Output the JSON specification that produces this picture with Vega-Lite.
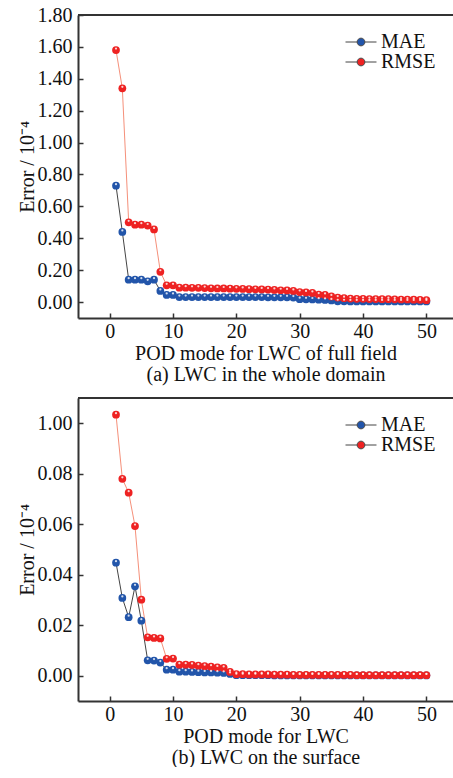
{
  "$schema": "https://vega.github.io/schema/vega-lite/v6.json",
  "padding": {"top": 5, "left": 17, "right": 0, "bottom": 0},
  "background": "white",
  "datasets": {
    "a": [
      {"n":1,"MAE":0.73,"RMSE":1.58},{"n":2,"MAE":0.44,"RMSE":1.34},{"n":3,"MAE":0.14,"RMSE":0.50},{"n":4,"MAE":0.14,"RMSE":0.485},{"n":5,"MAE":0.14,"RMSE":0.485},
      {"n":6,"MAE":0.13,"RMSE":0.48},{"n":7,"MAE":0.14,"RMSE":0.455},{"n":8,"MAE":0.07,"RMSE":0.19},{"n":9,"MAE":0.045,"RMSE":0.105},{"n":10,"MAE":0.045,"RMSE":0.105},
      {"n":11,"MAE":0.031,"RMSE":0.09},{"n":12,"MAE":0.031,"RMSE":0.09},{"n":13,"MAE":0.031,"RMSE":0.089},{"n":14,"MAE":0.031,"RMSE":0.089},{"n":15,"MAE":0.031,"RMSE":0.088},
      {"n":16,"MAE":0.031,"RMSE":0.086},{"n":17,"MAE":0.031,"RMSE":0.085},{"n":18,"MAE":0.031,"RMSE":0.085},{"n":19,"MAE":0.031,"RMSE":0.084},{"n":20,"MAE":0.031,"RMSE":0.083},
      {"n":21,"MAE":0.031,"RMSE":0.082},{"n":22,"MAE":0.031,"RMSE":0.081},{"n":23,"MAE":0.031,"RMSE":0.08},{"n":24,"MAE":0.031,"RMSE":0.079},{"n":25,"MAE":0.03,"RMSE":0.078},
      {"n":26,"MAE":0.03,"RMSE":0.076},{"n":27,"MAE":0.03,"RMSE":0.074},{"n":28,"MAE":0.03,"RMSE":0.073},{"n":29,"MAE":0.028,"RMSE":0.07},{"n":30,"MAE":0.018,"RMSE":0.063},
      {"n":31,"MAE":0.017,"RMSE":0.06},{"n":32,"MAE":0.016,"RMSE":0.057},{"n":33,"MAE":0.015,"RMSE":0.047},{"n":34,"MAE":0.013,"RMSE":0.045},{"n":35,"MAE":0.01,"RMSE":0.035},
      {"n":36,"MAE":0.005,"RMSE":0.028},{"n":37,"MAE":0.005,"RMSE":0.024},{"n":38,"MAE":0.004,"RMSE":0.022},{"n":39,"MAE":0.004,"RMSE":0.02},{"n":40,"MAE":0.004,"RMSE":0.02},
      {"n":41,"MAE":0.004,"RMSE":0.019},{"n":42,"MAE":0.004,"RMSE":0.019},{"n":43,"MAE":0.004,"RMSE":0.018},{"n":44,"MAE":0.004,"RMSE":0.018},{"n":45,"MAE":0.004,"RMSE":0.017},
      {"n":46,"MAE":0.004,"RMSE":0.016},{"n":47,"MAE":0.004,"RMSE":0.016},{"n":48,"MAE":0.004,"RMSE":0.015},{"n":49,"MAE":0.004,"RMSE":0.014},{"n":50,"MAE":0.004,"RMSE":0.012}
    ],
    "b": [
      {"n":1,"MAE":0.0448,"RMSE":0.1034},{"n":2,"MAE":0.0308,"RMSE":0.078},{"n":3,"MAE":0.0232,"RMSE":0.0725},{"n":4,"MAE":0.0354,"RMSE":0.0593},{"n":5,"MAE":0.0218,"RMSE":0.0301},
      {"n":6,"MAE":0.0061,"RMSE":0.0152},{"n":7,"MAE":0.006,"RMSE":0.015},{"n":8,"MAE":0.0052,"RMSE":0.0148},{"n":9,"MAE":0.0024,"RMSE":0.0067},{"n":10,"MAE":0.0024,"RMSE":0.0068},
      {"n":11,"MAE":0.0016,"RMSE":0.0044},{"n":12,"MAE":0.0016,"RMSE":0.0044},{"n":13,"MAE":0.0015,"RMSE":0.0043},{"n":14,"MAE":0.0014,"RMSE":0.004},{"n":15,"MAE":0.0013,"RMSE":0.0038},
      {"n":16,"MAE":0.0013,"RMSE":0.0036},{"n":17,"MAE":0.0012,"RMSE":0.0033},{"n":18,"MAE":0.0011,"RMSE":0.0031},{"n":19,"MAE":0.0007,"RMSE":0.0015},{"n":20,"MAE":0.0002,"RMSE":0.0006},
      {"n":21,"MAE":0.0002,"RMSE":0.0006},{"n":22,"MAE":0.0002,"RMSE":0.0005},{"n":23,"MAE":0.0002,"RMSE":0.0005},{"n":24,"MAE":0.0002,"RMSE":0.0005},{"n":25,"MAE":0.0002,"RMSE":0.0005},
      {"n":26,"MAE":0.0001,"RMSE":0.0004},{"n":27,"MAE":0.0001,"RMSE":0.0004},{"n":28,"MAE":0.0001,"RMSE":0.0004},{"n":29,"MAE":0.0001,"RMSE":0.0003},{"n":30,"MAE":0.0001,"RMSE":0.0003},
      {"n":31,"MAE":0.0001,"RMSE":0.0003},{"n":32,"MAE":0.0001,"RMSE":0.0003},{"n":33,"MAE":0.0001,"RMSE":0.0003},{"n":34,"MAE":0.0001,"RMSE":0.0003},{"n":35,"MAE":0.0001,"RMSE":0.0003},
      {"n":36,"MAE":0.0001,"RMSE":0.0003},{"n":37,"MAE":0.0001,"RMSE":0.0003},{"n":38,"MAE":0.0001,"RMSE":0.0003},{"n":39,"MAE":0.0001,"RMSE":0.0002},{"n":40,"MAE":0.0001,"RMSE":0.0002},
      {"n":41,"MAE":0.0001,"RMSE":0.0002},{"n":42,"MAE":0.0001,"RMSE":0.0002},{"n":43,"MAE":0.0001,"RMSE":0.0002},{"n":44,"MAE":0.0001,"RMSE":0.0002},{"n":45,"MAE":0.0001,"RMSE":0.0002},
      {"n":46,"MAE":0.0001,"RMSE":0.0002},{"n":47,"MAE":0.0001,"RMSE":0.0002},{"n":48,"MAE":0.0001,"RMSE":0.0002},{"n":49,"MAE":0.0001,"RMSE":0.0002},{"n":50,"MAE":0.0001,"RMSE":0.0002}
    ]
  },
  "vconcat": [
    {
      "width": 375, "height": 303,
      "data": {"name": "a"},
      "transform": [{"fold": ["MAE", "RMSE"], "as": ["series", "value"]}],
      "encoding": {
        "x": {"field": "n", "type": "quantitative", "scale": {"domain": [-5, 54.2], "nice": false, "zero": false},
              "axis": {"values": [0, 10, 20, 30, 40, 50], "format": "d", "labelOverlap": false, "title": ["POD mode for LWC of full field", "(a) LWC in the whole domain"]}},
        "y": {"field": "value", "type": "quantitative", "scale": {"domain": [-0.1, 1.8], "nice": false, "zero": false},
              "axis": {"values": [0, 0.2, 0.4, 0.6, 0.8, 1.0, 1.2, 1.4, 1.6, 1.8], "format": ".2f", "labelOverlap": false, "title": "Error / 10⁻⁴"}}
      },
      "layer": [
        {
          "mark": {"type": "line", "strokeWidth": 1},
          "encoding": {
            "detail": {"field": "series"},
            "stroke": {"condition": {"test": "datum.series === 'MAE'", "value": "#444444"}, "value": "#f5907a"}
          }
        },
        {
          "mark": {"type": "point", "filled": true, "opacity": 1, "size": 60},
          "encoding": {
            "order": {"field": "series"},
            "color": {"field": "series", "type": "nominal", "scale": {"domain": ["MAE", "RMSE"], "range": ["#2255aa", "#ee2222"]},
                      "legend": {"orient": "top-right", "offset": 4, "padding": 13, "title": null,
                                 "encode": {"symbols": {"update": {"stroke": [{"test": "datum.value === 'MAE'", "value": "#444444"}, {"value": "#f5907a"}], "strokeWidth": {"value": 1}}}}}}
          }
        },
        {
          "mark": {"type": "point", "filled": true, "opacity": 0.8, "size": 5, "color": "white", "yOffset": -1.5}
        },
        {
          "mark": {"type": "rule", "color": "#333", "strokeWidth": 2},
          "encoding": {"x": {"datum": -5}, "x2": {"datum": 54.2}, "y": {"datum": 1.8}}
        }
      ]
    },
    {
      "width": 375, "height": 303,
      "data": {"name": "b"},
      "transform": [{"fold": ["MAE", "RMSE"], "as": ["series", "value"]}],
      "encoding": {
        "x": {"field": "n", "type": "quantitative", "scale": {"domain": [-5, 54.2], "nice": false, "zero": false},
              "axis": {"values": [0, 10, 20, 30, 40, 50], "format": "d", "labelOverlap": false, "title": ["POD mode for LWC", "(b) LWC on the surface"]}},
        "y": {"field": "value", "type": "quantitative", "scale": {"domain": [-0.01, 0.11], "nice": false, "zero": false},
              "axis": {"values": [0, 0.02, 0.04, 0.06, 0.08, 0.1], "labelOverlap": false, "labelExpr": "datum.value > 0.09 ? '1.00' : format(datum.value, '.2f')", "title": "Error / 10⁻⁴"}}
      },
      "layer": [
        {
          "mark": {"type": "line", "strokeWidth": 1},
          "encoding": {
            "detail": {"field": "series"},
            "stroke": {"condition": {"test": "datum.series === 'MAE'", "value": "#444444"}, "value": "#f5907a"}
          }
        },
        {
          "mark": {"type": "point", "filled": true, "opacity": 1, "size": 60},
          "encoding": {
            "order": {"field": "series"},
            "color": {"field": "series", "type": "nominal", "scale": {"domain": ["MAE", "RMSE"], "range": ["#2255aa", "#ee2222"]},
                      "legend": {"orient": "top-right", "offset": 4, "padding": 13, "title": null,
                                 "encode": {"symbols": {"update": {"stroke": [{"test": "datum.value === 'MAE'", "value": "#444444"}, {"value": "#f5907a"}], "strokeWidth": {"value": 1}}}}}}
          }
        },
        {
          "mark": {"type": "point", "filled": true, "opacity": 0.8, "size": 5, "color": "white", "yOffset": -1.5}
        },
        {
          "mark": {"type": "rule", "color": "#333", "strokeWidth": 2},
          "encoding": {"x": {"datum": -5}, "x2": {"datum": 54.2}, "y": {"datum": 0.11}}
        }
      ]
    }
  ],
  "spacing": 13,
  "resolve": {"scale": {"color": "independent"}},
  "config": {
    "font": "Liberation Serif",
    "view": {"stroke": null},
    "axis": {
      "labelFont": "Liberation Serif", "titleFont": "Liberation Serif",
      "labelFontSize": 20, "titleFontSize": 20, "titleFontWeight": "normal",
      "labelColor": "#111", "titleColor": "#111",
      "domainColor": "#333", "domainWidth": 2,
      "tickColor": "#333", "tickWidth": 1.5, "tickSize": -5,
      "grid": false, "labelFlush": false
    },
    "axisX": {"labelPadding": 8, "titlePadding": 2, "titleLineHeight": 21},
    "axisY": {"labelPadding": 11, "titlePadding": 0},
    "legend": {
      "labelFont": "Liberation Serif", "labelFontSize": 20, "labelColor": "#111",
      "symbolType": "M-2,0H-0.5M0.5,0H2M-0.5,0A0.5,0.5 0 1 1 0.5,0A0.5,0.5 0 1 1 -0.5,0Z",
      "symbolSize": 240, "symbolStrokeWidth": 1, "labelOffset": 10, "rowPadding": 0,
      "symbolStrokeColor": "#444444"
    }
  }
}
